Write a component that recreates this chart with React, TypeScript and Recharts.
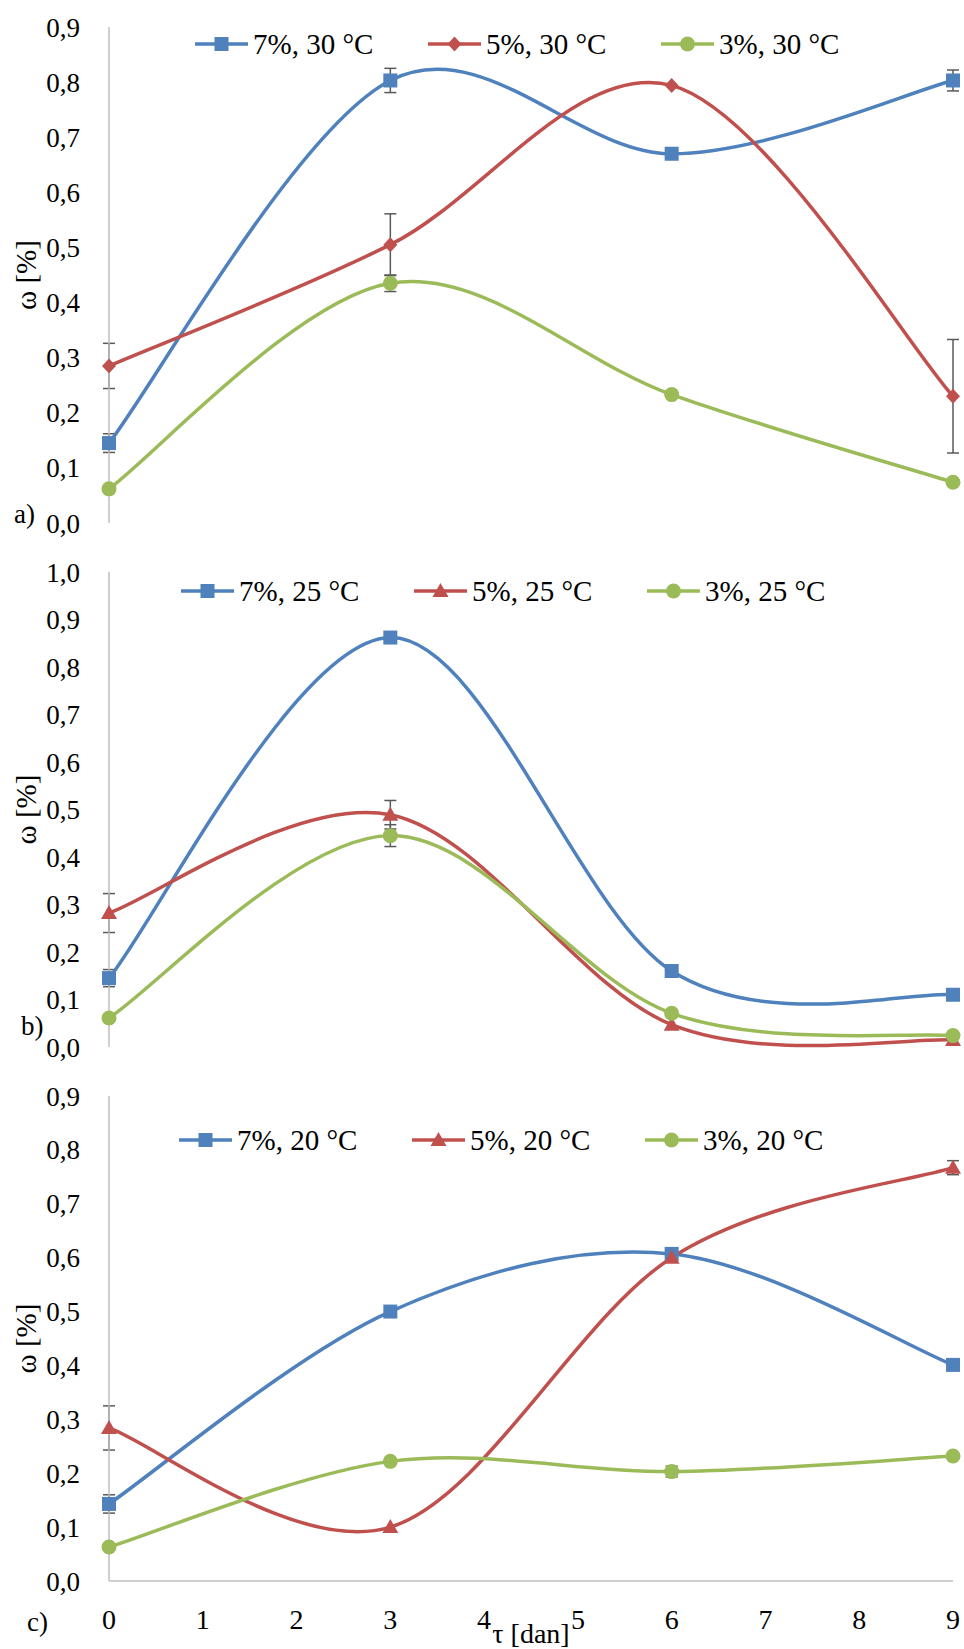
import React from "react"
import { LineChart, Line, XAxis, YAxis, ErrorBar, Legend } from "recharts"

// sampling days
const days = [0, 3, 6, 9]
const dayTicks = [0, 1, 2, 3, 4, 5, 6, 7, 8, 9]

// a) 30 °C
const w7_30 = [0.145, 0.803, 0.67, 0.803]
const w5_30 = [0.285, 0.505, 0.794, 0.23]
const w3_30 = [0.062, 0.435, 0.233, 0.074]
const e7_30 = [0.017, 0.022, null, 0.019]
const e5_30 = [0.041, 0.056, null, 0.103]
const e3_30 = [null, 0.015, null, null]

// b) 25 °C
const w7_25 = [0.145, 0.862, 0.16, 0.11]
const w5_25 = [0.282, 0.489, 0.047, 0.015]
const w3_25 = [0.061, 0.445, 0.071, 0.024]
const e7_25 = [0.018, null, null, null]
const e5_25 = [0.041, 0.03, null, null]
const e3_25 = [null, 0.023, null, null]

// c) 20 °C
const w7_20 = [0.143, 0.5, 0.607, 0.401]
const w5_20 = [0.284, 0.1, 0.6, 0.767]
const w3_20 = [0.063, 0.222, 0.203, 0.232]
const e7_20 = [0.017, null, null, null]
const e5_20 = [0.041, null, null, 0.013]
const e3_20 = [null, null, 0.01, null]

const ticks09 = [0, 0.1, 0.2, 0.3, 0.4, 0.5, 0.6, 0.7, 0.8, 0.9]
const ticks10 = [0, 0.1, 0.2, 0.3, 0.4, 0.5, 0.6, 0.7, 0.8, 0.9, 1.0]

const BLUE = "#4F81BD"
const RED = "#C0504D"
const GREEN = "#9BBB59"
const AXIS = "#BFBFBF"
const FONT = "Liberation Serif, Liberation Sans, Arial, sans-serif"

const buildRows = (w7: number[], w5: number[], w3: number[], e7: any[], e5: any[], e3: any[]) =>
  days.map((d, i) => ({ day: d, w7: w7[i], w5: w5[i], w3: w3[i], e7: e7[i], e5: e5[i], e3: e3[i] }))

// Excel-like smoothed line (cardinal spline, tension 0)
function excelSmooth(context: any) {
  let pts: number[][] = []
  return {
    areaStart() {},
    areaEnd() {},
    lineStart() {
      pts = []
    },
    point(x: number, y: number) {
      pts.push([+x, +y])
    },
    lineEnd() {
      const n = pts.length
      if (!n) return
      context.moveTo(pts[0][0], pts[0][1])
      for (let i = 0; i < n - 1; i++) {
        const p0 = pts[Math.max(i - 1, 0)]
        const p1 = pts[i]
        const p2 = pts[i + 1]
        const p3 = pts[Math.min(i + 2, n - 1)]
        context.bezierCurveTo(
          p1[0] + (p2[0] - p0[0]) / 6,
          p1[1] + (p2[1] - p0[1]) / 6,
          p2[0] - (p3[0] - p1[0]) / 6,
          p2[1] - (p3[1] - p1[1]) / 6,
          p2[0],
          p2[1]
        )
      }
    },
  }
}

type Shape = "square" | "diamond" | "triangle" | "circle"

function markerPath(shape: Shape, cx: number, cy: number, color: string, key?: any) {
  if (shape === "square") return <rect key={key} x={cx - 7} y={cy - 7} width={14} height={14} fill={color} />
  if (shape === "diamond")
    return <path key={key} d={`M${cx},${cy - 7.5}L${cx + 7},${cy}L${cx},${cy + 7.5}L${cx - 7},${cy}Z`} fill={color} />
  if (shape === "triangle")
    return <path key={key} d={`M${cx},${cy - 8}L${cx + 8},${cy + 6}L${cx - 8},${cy + 6}Z`} fill={color} />
  return <circle key={key} cx={cx} cy={cy} r={7.5} fill={color} />
}

const dotOf = (shape: Shape, color: string) => (p: any) =>
  p.cx == null || p.cy == null ? <g key={p.key ?? p.index} /> : markerPath(shape, p.cx, p.cy, color, p.key ?? p.index)

const fmt = (v: number) => v.toFixed(1).replace(".", ",")

const YTitle = (props: any) => {
  const vb = props.viewBox || { y: 0, height: 0 }
  const cx = 36
  const cy = vb.y + vb.height / 2
  return (
    <text x={cx} y={cy} transform={`rotate(-90 ${cx} ${cy})`} textAnchor="middle" fill="#000" style={{ fontSize: 29, fontFamily: FONT }}>
      ω [%]
    </text>
  )
}

type SeriesDef = { key: string; err: string; name: string; color: string; shape: Shape }

function LegendContent({ series }: { series: SeriesDef[] }) {
  return (
    <div style={{ position: "relative", height: 40, width: 964 }}>
      {series.map((s, i) => (
        <div
          key={s.key}
          style={{ position: "absolute", left: 0, top: 0, height: 40, display: "flex", alignItems: "center", transform: `translateX(${195 + i * 233}px)` }}
        >
          <svg width={53} height={20} style={{ display: "block" }}>
            <line x1={0} y1={10} x2={53} y2={10} stroke={s.color} strokeWidth={3.5} />
            {markerPath(s.shape, 26.5, 10, s.color)}
          </svg>
          <span style={{ marginLeft: 5, fontSize: 29, fontFamily: FONT, color: "#000", whiteSpace: "nowrap" }}>{s.name}</span>
        </div>
      ))}
    </div>
  )
}

type PanelProps = {
  top: number
  height: number
  marginTop: number
  marginBottom: number
  legendTop: number
  legendShift: number
  rows: any[]
  series: SeriesDef[]
  yMax: number
  yTicks: number[]
  showX: boolean
}

function Panel({ top, height, marginTop, marginBottom, legendTop, legendShift, rows, series, yMax, yTicks, showX }: PanelProps) {
  return (
    <div style={{ position: "absolute", left: 0, top }}>
      <LineChart width={964} height={height} data={rows} margin={{ top: marginTop, right: 11, left: 0, bottom: marginBottom }}>
        <XAxis
          dataKey="day"
          type="number"
          domain={[0, 9]}
          ticks={dayTicks}
          interval={0}
          tickLine={false}
          axisLine={{ stroke: AXIS, strokeWidth: 1.5 }}
          tick={showX ? { fill: "#000", fontSize: 28, style: { fontFamily: FONT } } : false}
          tickMargin={22}
          height={showX ? 68 : 0}
          label={showX ? { value: "τ [dan]", position: "insideBottom", offset: 6, fill: "#000", fontSize: 28, style: { fontFamily: FONT } } : undefined}
        />
        <YAxis
          type="number"
          domain={[0, yMax]}
          ticks={yTicks}
          interval={0}
          width={109}
          tickLine={false}
          axisLine={{ stroke: AXIS, strokeWidth: 1.5 }}
          tick={{ fill: "#000", fontSize: 27, style: { fontFamily: FONT } }}
          tickMargin={23}
          tickFormatter={fmt}
          label={<YTitle />}
        />
        <Legend
          verticalAlign="middle"
          align="center"
          wrapperStyle={{ top: legendTop, left: legendShift, width: 964, height: 40 }}
          content={() => <LegendContent series={series} />}
        />
        {series.map((s) => (
          <Line
            key={s.key}
            type={excelSmooth as any}
            dataKey={s.key}
            name={s.name}
            stroke={s.color}
            strokeWidth={3.5}
            dot={dotOf(s.shape, s.color)}
            activeDot={false}
            isAnimationActive={false}
          >
            <ErrorBar dataKey={s.err} direction="y" width={6} stroke="#595959" strokeWidth={1.5} />
          </Line>
        ))}
      </LineChart>
    </div>
  )
}

const seriesA: SeriesDef[] = [
  { key: "w7", err: "e7", name: "7%, 30 °C", color: BLUE, shape: "square" },
  { key: "w5", err: "e5", name: "5%, 30 °C", color: RED, shape: "diamond" },
  { key: "w3", err: "e3", name: "3%, 30 °C", color: GREEN, shape: "circle" },
]
const seriesB: SeriesDef[] = [
  { key: "w7", err: "e7", name: "7%, 25 °C", color: BLUE, shape: "square" },
  { key: "w5", err: "e5", name: "5%, 25 °C", color: RED, shape: "triangle" },
  { key: "w3", err: "e3", name: "3%, 25 °C", color: GREEN, shape: "circle" },
]
const seriesC: SeriesDef[] = [
  { key: "w7", err: "e7", name: "7%, 20 °C", color: BLUE, shape: "square" },
  { key: "w5", err: "e5", name: "5%, 20 °C", color: RED, shape: "triangle" },
  { key: "w3", err: "e3", name: "3%, 20 °C", color: GREEN, shape: "circle" },
]

const panelLabel = (text: string, left: number, top: number) => (
  <div style={{ position: "absolute", left, top, fontSize: 27, lineHeight: "30px", fontFamily: FONT, color: "#000" }}>{text}</div>
)

export default function App() {
  return (
    <div style={{ position: "absolute", left: 0, top: 0, width: 964, height: 1649, background: "#fff", overflow: "hidden", fontFamily: FONT }}>
      <Panel
        top={0}
        height={548}
        marginTop={27}
        marginBottom={25}
        legendTop={24}
        legendShift={0}
        rows={buildRows(w7_30, w5_30, w3_30, e7_30, e5_30, e3_30)}
        series={seriesA}
        yMax={0.9}
        yTicks={ticks09}
        showX={false}
      />
      <Panel
        top={548}
        height={524}
        marginTop={24}
        marginBottom={25}
        legendTop={23}
        legendShift={-14}
        rows={buildRows(w7_25, w5_25, w3_25, e7_25, e5_25, e3_25)}
        series={seriesB}
        yMax={1.0}
        yTicks={ticks10}
        showX={false}
      />
      <Panel
        top={1072}
        height={577}
        marginTop={24}
        marginBottom={0}
        legendTop={48}
        legendShift={-16}
        rows={buildRows(w7_20, w5_20, w3_20, e7_20, e5_20, e3_20)}
        series={seriesC}
        yMax={0.9}
        yTicks={ticks09}
        showX={true}
      />
      {panelLabel("a)", 14, 499)}
      {panelLabel("b)", 21, 1011)}
      {panelLabel("c)", 27, 1607)}
    </div>
  )
}
